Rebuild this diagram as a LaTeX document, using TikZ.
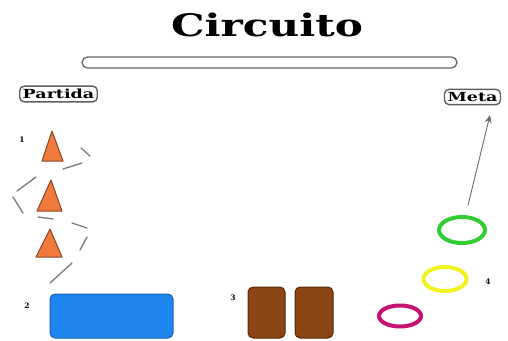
\documentclass[tikz,border=0pt]{standalone}
\usepackage{fontspec}
\newfontfamily\signfont{DejaVu Serif}
\usetikzlibrary{shapes.geometric,arrows.meta}
\definecolor{conecol}{HTML}{F07A3C}
\definecolor{coneedge}{HTML}{8A4525}
\definecolor{matblue}{HTML}{1E86EE}
\definecolor{matedge}{HTML}{1463B5}
\definecolor{boxbrown}{HTML}{8B4513}
\definecolor{boxedge}{HTML}{55290A}
\definecolor{hoopgreen}{HTML}{34CC34}
\definecolor{hoopyellow}{HTML}{F2F222}
\definecolor{hoopmagenta}{HTML}{C8116E}
\tikzset{
  sign/.style={draw=gray!75!black,line width=1.4pt,rounded corners=4.5pt,fill=white,
    inner xsep=3pt,inner ysep=3pt,font=\signfont\bfseries\fontsize{12.5}{12.5}\selectfont},
  tag/.style={font=\signfont\bfseries\fontsize{7.5}{7.5}\selectfont},
  trail/.style={gray,line width=1.4pt,line cap=round},
  hoop/.style={ellipse,draw,line width=4pt,inner sep=0pt},
  block/.style={rounded corners=5pt,line width=1pt,inner sep=0pt}
}
\begin{document}
\begin{tikzpicture}[x=1pt,y=-1pt,>=stealth]
  \useasboundingbox (0,0) rectangle (508,340);
  \node[font=\signfont\bfseries\fontsize{31}{31}\selectfont] (title) at (267,25)
    {\scalebox{1.36}[1]{Circuito}};
  \node[draw=gray!80!black,line width=1.3pt,rounded corners=5.5pt,fill=white,
    minimum width=375pt,minimum height=11pt,inner sep=0pt] (track) at (269.5,62.5) {};
  \node[sign] (start) at (58.5,94) {\scalebox{1.4}[1]{Partida}};
  \node[sign] (goalsign) at (472.5,97) {\scalebox{1.4}[1]{Meta}};
  % cones
  \foreach \ax/\ay/\bl/\br/\by in {52/131/42/63/161, 51/180/37/62/211, 50/229/36/62/257}
    \draw[fill=conecol,draw=coneedge,line width=1pt,line join=round]
      (\ax,\ay) -- (\br,\by) -- (\bl,\by) -- cycle;
  \node[tag] (n1) at (22,140) {1};
  % zigzag run
  \foreach \xa/\ya/\xb/\yb in {81/148/90/156, 63/169/82/163, 36/177/17/191, 13/197/23/213,
      38/217/53/219, 72/223/87/228, 87/237/80/250, 72/263/50/283}
    \draw[trail] (\xa,\ya) -- (\xb,\yb);
  % mat and boxes
  \node[tag] (n2) at (27,306) {2};
  \node[block,fill=matblue,draw=matedge,minimum width=123pt,minimum height=44pt] (mat) at (111.5,316) {};
  \node[tag] (n3) at (233,298) {3};
  \node[block,fill=boxbrown,draw=boxedge,minimum width=37pt,minimum height=51pt] (boxa) at (266.5,312.5) {};
  \node[block,fill=boxbrown,draw=boxedge,minimum width=38pt,minimum height=51pt] (boxb) at (314,312.5) {};
  % hoops
  \node[hoop,draw=hoopmagenta,minimum width=42pt,minimum height=21pt] (hoopc) at (400,316) {};
  \node[hoop,draw=hoopyellow,minimum width=43pt,minimum height=24pt] (hoopb) at (445,279) {};
  \node[hoop,draw=hoopgreen,minimum width=46pt,minimum height=26pt] (hoopa) at (462,230) {};
  \node[tag] (n4) at (488,282) {4};
  \coordinate (finish) at (490,115);
  \draw[-{Stealth[length=8pt,width=7pt]},gray!85!black,line width=0.9pt,shorten <=10pt] (hoopa) -- (finish);
\end{tikzpicture}
\end{document}
